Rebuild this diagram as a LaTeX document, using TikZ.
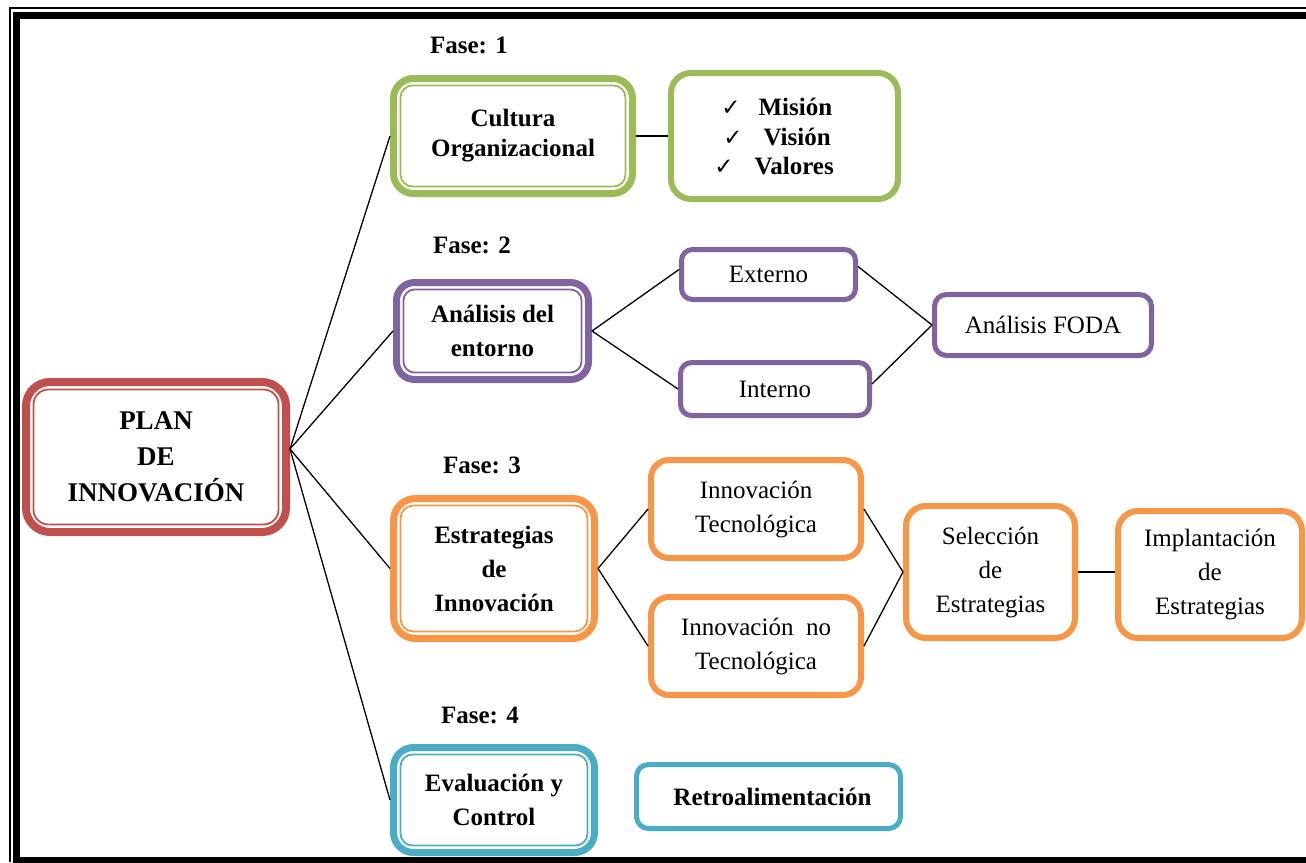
\documentclass[tikz,border=0pt]{standalone}
\usepackage{fontspec}
\setmainfont{Liberation Serif}
\newfontfamily\symfont{DejaVu Sans}
\definecolor{ofred}{HTML}{C0504D}
\definecolor{ofgreen}{HTML}{9BBB59}
\definecolor{ofpurple}{HTML}{8064A2}
\definecolor{oforange}{HTML}{F79646}
\definecolor{ofblue}{HTML}{4BACC6}
\newcommand{\ck}{{\symfont\fontsize{23}{23}\selectfont ✓}}
\begin{document}
\begin{tikzpicture}[x=1pt,y=-1pt,
  phase/.style={draw=#1, line width=7pt, rounded corners=20pt, inner sep=0pt,
    align=center, fill=white, font=\fontsize{25}{34}\selectfont\bfseries},
  item/.style={draw=#1, line width=6pt, rounded corners=14pt, inner sep=0pt,
    align=center, fill=white, font=\fontsize{25}{34}\selectfont},
  fase/.style={inner sep=0pt, font=\fontsize{25}{30}\selectfont\bfseries},
  link/.style={line width=1.3pt, black},
  frame/.style={black}]
\useasboundingbox (0,0) rectangle (1306,862);
\fill[white] (0,0) rectangle (1306,862);

% page frame: thin outer rule and thick inner rule (open at the right edge)
\draw[frame, line width=1.3pt] (1306,8) -- (10,8) -- (10,862);
\draw[frame, line width=7.5pt] (1306,15.5) -- (16.5,15.5) -- (16.5,861) -- (1306,861);

% central node
\node[phase=ofred, line width=8pt, rounded corners=24pt,
  minimum width=260pt, minimum height=150pt,
  font=\fontsize{27}{36}\selectfont\bfseries] (plan) at (156,457)
  {PLAN\\DE\\INNOVACIÓN};

% phase 1
\node[fase] (f1) at (469,45) {Fase: 1};
\node[phase=ofgreen, minimum width=239pt, minimum height=115pt,
  font=\fontsize{25}{30}\selectfont\bfseries] (cult) at (513,136)
  {Cultura\\Organizacional};
\node[item=ofgreen, rounded corners=20pt, minimum width=227pt, minimum height=126pt]
  (mvv) at (784.5,136) {};
\node[inner sep=0pt, align=left, font=\fontsize{25}{29.5}\selectfont\bfseries]
  (mvvtext) at (774,137)
  {\hspace*{7pt}\ck\hspace{18pt}Misión\\
   \hspace*{9pt}\ck\hspace{21pt}Visión\\
   \ck\hspace{21pt}Valores};

% phase 2
\node[fase] (f2) at (472,245) {Fase: 2};
\node[phase=ofpurple, rounded corners=18pt, minimum width=192pt, minimum height=97pt]
  (anal) at (492.5,331) {Análisis del\\entorno};
\node[item=ofpurple, line width=5pt, rounded corners=11pt,
  minimum width=174pt, minimum height=50pt] (ext) at (768.5,274.5) {Externo};
\node[item=ofpurple, line width=5pt, rounded corners=11pt,
  minimum width=189pt, minimum height=53pt] (int) at (775,389) {Interno};
\node[item=ofpurple, line width=5pt, rounded corners=12pt,
  minimum width=217pt, minimum height=61pt] (foda) at (1043,325) {Análisis FODA};

% phase 3
\node[fase] (f3) at (482,465) {Fase: 3};
\node[phase=oforange, rounded corners=22pt, minimum width=201pt, minimum height=140pt]
  (estr) at (494,568.5) {Estrategias\\de\\Innovación};
\node[item=oforange, rounded corners=18pt, minimum width=210pt, minimum height=98pt]
  (itec) at (756,509) {Innovación\\Tecnológica};
\node[item=oforange, rounded corners=18pt, minimum width=210pt, minimum height=98pt]
  (inotec) at (756,646) {Innovación\ \ no\\Tecnológica};
\node[item=oforange, rounded corners=20pt, minimum width=169pt, minimum height=132pt]
  (sel) at (990.5,572) {Selección\\de\\Estrategias};
\node[item=oforange, rounded corners=20pt, minimum width=184pt, minimum height=127pt]
  (impl) at (1210,574.5) {Implantación\\de\\Estrategias};

% phase 4
\node[fase] (f4) at (480,715) {Fase: 4};
\node[phase=ofblue, minimum width=201pt, minimum height=105pt]
  (eval) at (494,800) {Evaluación y\\Control};
\node[item=ofblue, line width=5pt, rounded corners=12pt,
  minimum width=264pt, minimum height=64pt,
  font=\fontsize{25}{34}\selectfont\bfseries] (retro) at (768.5,796.5)
  {\hspace*{8pt}Retroalimentación};

% thin inner rules of the phase boxes
\draw[ofred, line width=1.8pt, rounded corners=15pt]
  ([shift={(11.5pt,-11.5pt)}]plan.north west) rectangle ([shift={(-11.5pt,11.5pt)}]plan.south east);
\foreach \n/\c/\r in {cult/ofgreen/12, anal/ofpurple/11, estr/oforange/13, eval/ofblue/12}
  \draw[\c, line width=1.8pt, rounded corners=\r pt]
    ([shift={(10.5pt,-10.5pt)}]\n.north west) rectangle ([shift={(-10.5pt,10.5pt)}]\n.south east);

% connectors
\coordinate (hub) at ([yshift=8pt]plan.east);
\draw[link] (hub) -- (cult.west);
\draw[link] (hub) -- (anal.west);
\draw[link] (hub) -- (estr.west);
\draw[link] (hub) -- (eval.west);
\draw[link] (cult.east) -- (mvv.west);
\draw[link] (anal.east) -- ([yshift=5pt]ext.west);
\draw[link] (anal.east) -- (int.west);
\draw[link] ([yshift=8pt]ext.east) -- (foda.west);
\draw[link] ([yshift=5pt]int.east) -- (foda.west);
\draw[link] (estr.east) -- (itec.west);
\draw[link] (estr.east) -- (inotec.west);
\draw[link] (itec.east) -- (sel.west);
\draw[link] (inotec.east) -- (sel.west);
\draw[link] (sel.east) -- (sel.east -| impl.west);
\end{tikzpicture}
\end{document}
